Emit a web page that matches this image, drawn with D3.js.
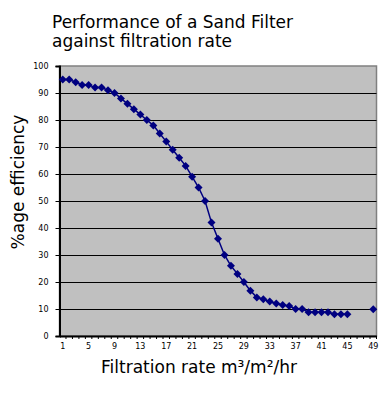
<!DOCTYPE html>
<html>
<head>
<meta charset="utf-8">
<script src="https://cdn.jsdelivr.net/npm/d3@7"></script>
<style>
  body { margin: 0; background: #fff; }
  svg { display: block; }
  .tick text { font-family: "DejaVu Sans", sans-serif; font-size: 8px; fill: #000; }
</style>
</head>
<body>
<div id="chart-container"></div>
<script>
// filtration rate categories (m3/m2/hr)
var categories = [1,2,3,4,5,6,7,8,9,10,11,12,13,14,15,16,17,18,19,20,21,22,23,24,25,
                  26,27,28,29,30,31,32,33,34,35,36,37,38,39,40,41,42,43,44,45,46,47,48,49];
// % efficiency, null where no reading
var efficiency = [95,95,94,93,93,92,92,91,90,88,86,84,82,80,78,75,72,69,66,63,59,55,50,42,36,
                  30,26,23,20,16.8,14.3,13.6,12.8,12,11.5,11.1,10,10,8.8,8.8,8.8,8.8,8.1,8.1,8.1,
                  null,null,null,9.9];
var xLabels = [1,5,9,13,17,21,25,29,33,37,41,45,49];
var yTicks = [0,10,20,30,40,50,60,70,80,90,100];

var W = 389, H = 394;
var plot = {left: 59.5, right: 376.5, top: 66, bottom: 336};
var font = "DejaVu Sans, sans-serif";

var svg = d3.select("#chart-container").append("svg").attr("width", W).attr("height", H)

var data = categories.map(function(c, i) { return {cat: c, v: efficiency[i]}; });

var x = d3.scaleBand().domain(categories).range([plot.left, plot.right]).padding(0)
var y = d3.scaleLinear().domain([0, 100]).range([plot.bottom, plot.top])

// plot area
svg.append("rect")
  .attr("x", plot.left).attr("y", plot.top)
  .attr("width", plot.right - plot.left).attr("height", plot.bottom - plot.top)
  .attr("fill", "#c0c0c0").attr("stroke", "#808080").attr("stroke-width", 1.5)

// gridlines
svg.append("g").selectAll("line").data(yTicks.slice(1, -1)).enter().append("line")
  .attr("x1", plot.left).attr("x2", plot.right)
  .attr("y1", function(d) { return Math.round(y(d)) + 0.5; })
  .attr("y2", function(d) { return Math.round(y(d)) + 0.5; })
  .attr("stroke", "#000").attr("stroke-width", 1)

// y axis
var yAxis = d3.axisLeft(y).tickValues(yTicks).tickSize(4).tickPadding(7)
var gy = svg.append("g").attr("transform", "translate(" + plot.left + ",0)").call(yAxis)
gy.select(".domain").attr("stroke", "#000").attr("stroke-width", 2)

// x axis: minor ticks at every category boundary, labels every 4th
var xAxis = d3.axisBottom(x).tickValues(xLabels).tickSize(0).tickPadding(7)
var gx = svg.append("g").attr("transform", "translate(0," + plot.bottom + ")").call(xAxis)
gx.select(".domain").attr("stroke", "#000").attr("stroke-width", 2)
gx.selectAll(".tick line").remove()
gx.append("g").selectAll("line").data(categories).enter().append("line")
  .attr("x1", function(d) { return x(d) + x.bandwidth(); })
  .attr("x2", function(d) { return x(d) + x.bandwidth(); })
  .attr("y1", 0).attr("y2", 3)
  .attr("stroke", "#000").attr("stroke-width", 1)

// series line
var line = d3.line()
  .defined(function(d) { return d.v != null; })
  .x(function(d) { return x(d.cat) + x.bandwidth() / 2; })
  .y(function(d) { return y(d.v); })

svg.append("path").datum(data)
  .attr("d", line)
  .attr("fill", "none").attr("stroke", "#000080").attr("stroke-width", 1.5)

var r = 4
svg.append("g").selectAll("path").data(data.filter(function(d) { return d.v != null; })).enter().append("path")
  .attr("transform", function(d) { return "translate(" + (x(d.cat) + x.bandwidth() / 2) + "," + y(d.v) + ")"; })
  .attr("d", "M0," + (-r) + "L" + r + ",0L0," + r + "L" + (-r) + ",0Z")
  .attr("fill", "#000080")

// titles
var title = svg.append("text").attr("font-family", font).attr("font-size", 17).attr("fill", "#000")
title.append("tspan").attr("x", 52).attr("y", 28).text("Performance of a Sand Filter")
title.append("tspan").attr("x", 52).attr("y", 47).text("against filtration rate")

svg.append("text")
  .attr("transform", "translate(24,182) rotate(-90)")
  .attr("text-anchor", "middle")
  .attr("font-family", font).attr("font-size", 17)
  .text("%age efficiency")

svg.append("text")
  .attr("x", 199).attr("y", 373)
  .attr("text-anchor", "middle")
  .attr("font-family", font).attr("font-size", 17)
  .text("Filtration rate m³/m²/hr")
</script>
</body>
</html>
